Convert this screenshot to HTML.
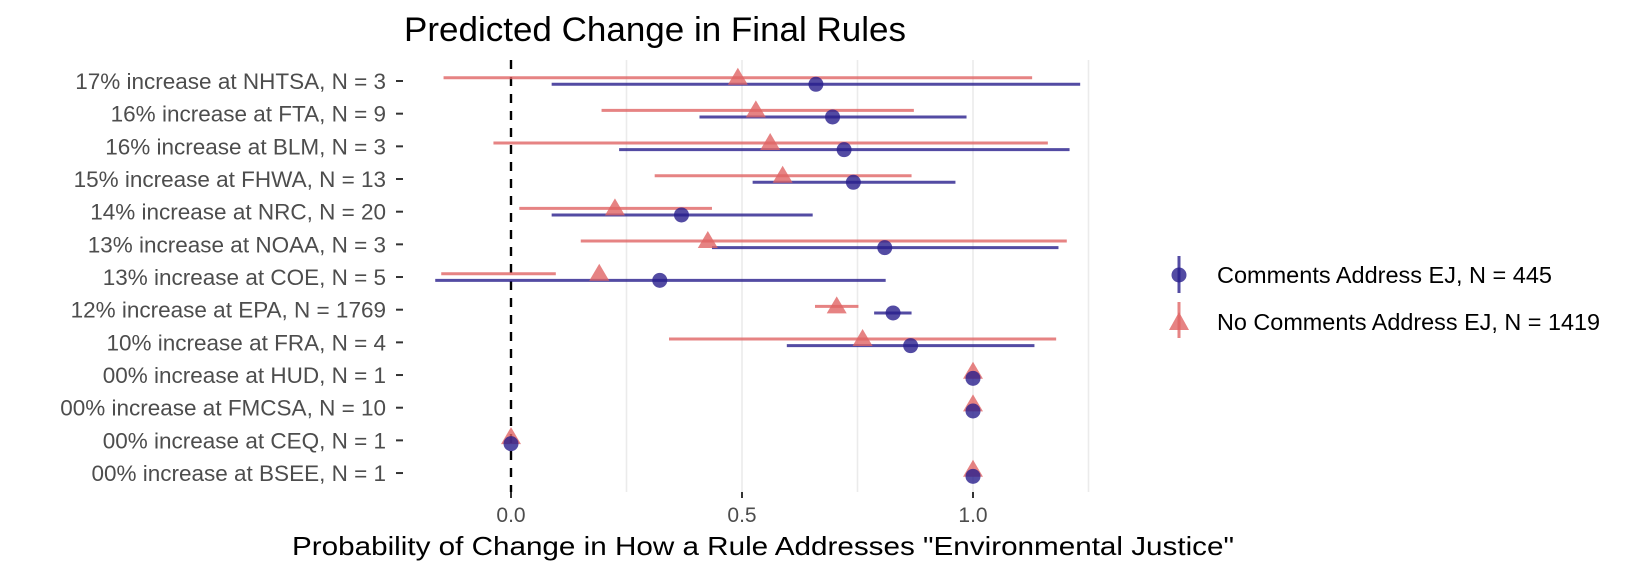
<!DOCTYPE html>
<html><head><meta charset="utf-8"><style>
html,body{margin:0;padding:0;background:#fff;}
svg{display:block;font-family:"Liberation Sans",sans-serif;}
</style></head><body>
<svg id="chart" width="1632" height="576">
<text x="404" y="41" font-size="34" fill="#000" textLength="502" lengthAdjust="spacingAndGlyphs">Predicted Change in Final Rules</text>
<g id="grid"></g>
<g id="marks"></g>
<g id="ylabels"></g>
<g id="xaxis"></g>
<text x="292" y="555" font-size="26" textLength="942" lengthAdjust="spacingAndGlyphs" fill="#000">Probability of Change in How a Rule Addresses "Environmental Justice"</text>
<g>
<g>
<line x1="1179" y1="256" x2="1179" y2="293" stroke="rgba(40,30,140,0.8)" stroke-width="3"/>
<circle cx="1179" cy="275" r="7.5" fill="rgba(40,30,140,0.8)"/>
<text x="1217" y="283" font-size="23" textLength="335" lengthAdjust="spacingAndGlyphs" fill="#000">Comments Address EJ, N = 445</text>
</g>
<g>
<line x1="1179" y1="302" x2="1179" y2="338" stroke="rgba(224,100,100,0.8)" stroke-width="3"/>
<polygon points="1179,312 1189,330 1169,330" fill="rgba(224,100,100,0.8)"/>
<text x="1217" y="330" font-size="23" textLength="383" lengthAdjust="spacingAndGlyphs" fill="#000">No Comments Address EJ, N = 1419</text>
</g>
</g>
</svg>
<script>
const categories = ["17% increase at NHTSA, N = 3","16% increase at FTA, N = 9","16% increase at BLM, N = 3","15% increase at FHWA, N = 13","14% increase at NRC, N = 20","13% increase at NOAA, N = 3","13% increase at COE, N = 5","12% increase at EPA, N = 1769","10% increase at FRA, N = 4","00% increase at HUD, N = 1","00% increase at FMCSA, N = 10","00% increase at CEQ, N = 1","00% increase at BSEE, N = 1"];
const ejEst = [0.66,0.696,0.721,0.741,0.369,0.809,0.322,0.827,0.865,1,1,0,1];
const ejLow = [0.088,0.408,0.234,0.523,0.088,0.435,-0.164,0.786,0.597,1,1,0,1];
const ejHigh = [1.232,0.986,1.209,0.962,0.653,1.185,0.811,0.867,1.133,1,1,0,1];
const noEst = [0.491,0.53,0.561,0.588,0.225,0.426,0.191,0.705,0.761,1,1,0,1];
const noLow = [-0.146,0.196,-0.038,0.311,0.018,0.151,-0.151,0.658,0.342,1,1,0,1];
const noHigh = [1.128,0.872,1.162,0.867,0.435,1.203,0.097,0.752,1.180,1,1,0,1];
const xTicks = [0, 0.5, 1.0];
const xTickLabels = ["0.0","0.5","1.0"];
const gridVals = [0.25,0.5,0.75,1.0,1.25];

const NS="http://www.w3.org/2000/svg";
const x = v => 511 + v*462;
const y = i => 81 + i*32.67;
const panelTop = 60, panelBottom = 492;
function mk(tag, attrs, parent){const e=document.createElementNS(NS,tag);for(const k in attrs)e.setAttribute(k,attrs[k]);parent.appendChild(e);return e;}
const grid=document.getElementById('grid'), marks=document.getElementById('marks'), yl=document.getElementById('ylabels'), xa=document.getElementById('xaxis');
gridVals.forEach(v=>{
  const l=mk('line',{x1:x(v),x2:x(v),y1:panelTop,y2:panelBottom,stroke:'#ebebeb','stroke-width':1.6},grid);
  
  
});
const z=mk('line',{x1:x(0),x2:x(0),y1:panelTop,y2:panelBottom,stroke:'#000','stroke-width':2.4,'stroke-dasharray':'9,8'},grid);


xTicks.forEach((v,i)=>{
  const t=mk('line',{x1:x(v),x2:x(v),y1:panelBottom,y2:panelBottom+6,stroke:'#333','stroke-width':2},xa);
  
  
  const lb=mk('text',{x:x(v),y:522,'font-size':21,'text-anchor':'middle',fill:'#4d4d4d'},xa);
  lb.textContent=xTickLabels[i];
  
  
});
categories.forEach((c,i)=>{
  const cy=y(i);
  const lb=mk('text',{x:386,y:cy+8,'font-size':22.5,'text-anchor':'end',fill:'#4d4d4d'},yl);
  lb.textContent=c;
  
  
  const tk=mk('line',{x1:396,x2:403,y1:cy,y2:cy,stroke:'#333','stroke-width':2},yl);
  
  
  const ry=cy-3.3, by=cy+3.3;
  const rl=mk('line',{x1:x(noLow[i]),x2:x(noHigh[i]),y1:ry,y2:ry,stroke:'rgba(224,100,100,0.8)','stroke-width':3},marks);
  
  
  const bl=mk('line',{x1:x(ejLow[i]),x2:x(ejHigh[i]),y1:by,y2:by,stroke:'rgba(40,30,140,0.8)','stroke-width':3},marks);
  
  
  const tx=x(noEst[i]);
  const tr=mk('polygon',{points:`${tx},${ry-10} ${tx+10},${ry+7} ${tx-10},${ry+7}`,fill:'rgba(224,100,100,0.8)'},marks);
  
  
  const ci=mk('circle',{cx:x(ejEst[i]),cy:by,r:7.5,fill:'rgba(40,30,140,0.8)'},marks);
  
  
});
</script>
</body></html>
